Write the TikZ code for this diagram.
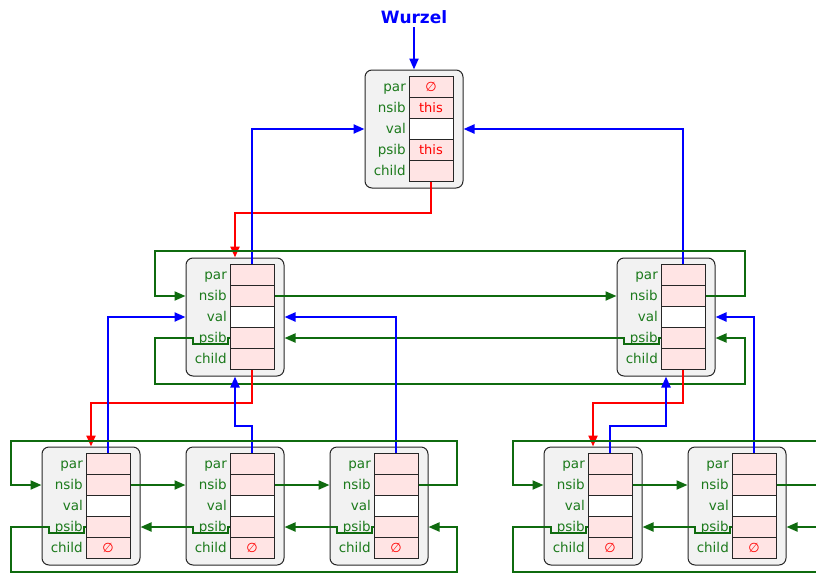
\documentclass[tikz,border=0pt]{standalone}
\usepackage{amsmath,amssymb}
\usepackage{fontspec}
\setmainfont{DejaVu Sans}
\usepackage{tikz}
\usetikzlibrary{arrows.meta,positioning}
\definecolor{cellpink}{HTML}{FFE4E4}
\definecolor{boxgray}{HTML}{F2F2F2}
\definecolor{sibgreen}{HTML}{0F6B0F}
\definecolor{lblgreen}{HTML}{1C7A1C}
\tikzset{
    recbox/.style={draw=black!85,fill=boxgray,rounded corners=7pt,minimum width=98pt,minimum height=118pt,inner sep=0pt,line width=1pt},
    cell/.style={draw=black!85,fill=cellpink,minimum width=44pt,minimum height=21pt,inner sep=0pt,line width=1pt,text=red,font=\fontsize{13}{15}\selectfont},
    fieldlbl/.style={anchor=base east,inner sep=0pt,text=lblgreen,font=\fontsize{13.5}{15}\selectfont},
    rootlbl/.style={text=blue,font=\bfseries\fontsize{17}{20}\selectfont},
    ptr/.style={line width=2.2pt,-{Triangle[length=11pt,width=9pt]}},
    parptr/.style={ptr,blue},
    childptr/.style={ptr,red},
    sibptr/.style={ptr,sibgreen,line width=2pt},
    sibline/.style={sibgreen,line width=2pt},
}
\newcommand{\nil}{\textit{∅}}
% #1 name, #2/#3 top left of the cells, #4 par, #5 nsib, #6 psib, #7 child
\newcommand{\listnode}[7]{%
    \node[recbox] (#1) at (#2+5,#3+52.5) {};
    \foreach \i/\fld/\txt/\fc in {0/par/{#4}/cellpink,1/nsib/{#5}/cellpink,2/val/{}/white,3/psib/{#6}/cellpink,4/child/{#7}/cellpink}{
        \node[cell,fill=\fc] (#1-\fld) at (#2+22,#3+10.5+21*\i) {\txt};
        \node[fieldlbl] (#1-\fld l) at (#2-3,#3+15+21*\i) {\fld};
    }
}

\begin{document}
\begin{tikzpicture}[x=1pt,y=-1pt]
    \useasboundingbox (0,0) rectangle (816,573);

    % nodes
    \listnode{top}{409}{76.5}{\nil}{this}{this}{}
    \listnode{ml}{230}{264.5}{}{}{}{}
    \listnode{mr}{661}{264.5}{}{}{}{}
    \listnode{bA}{86}{453.5}{}{}{}{\nil}
    \listnode{bB}{230}{453.5}{}{}{}{\nil}
    \listnode{bC}{374}{453.5}{}{}{}{\nil}
    \listnode{bD}{588}{453.5}{}{}{}{\nil}
    \listnode{bE}{732}{453.5}{}{}{}{\nil}

    % root
    \node[rootlbl] (root) at (414,17) {Wurzel};
    \draw[parptr] (root.south) -- (top.north);

    % level 1
    \draw[childptr] (top-child.south) -- ++(0,31) -| (ml.north);
    \draw[parptr] (ml-par.north) |- (top.west);
    \draw[parptr] (mr-par.north) |- (top.east);
    \draw[sibptr] (ml-nsib.east) -- (mr.west |- mr-nsib);
    \draw[sibptr] (mr-nsib.east) -| (745,251) -- (155,251) |- (ml.west |- ml-nsib);
    \draw[sibptr] (ml-psib.west) -- ++(-2,0) -- ++(0,6) -- ++(-35,0) -- ++(0,-6) -| (155,384) -| (745,338) -- (mr.east |- mr-psib);
    \draw[sibptr] (mr-psib.west) -- ++(-2,0) -- ++(0,6) -- ++(-35,0) -- ++(0,-6) -- (ml.east |- ml-psib);

    % level 2, left
    \draw[childptr] (ml-child.south) -- ++(0,33) -| (bA.north);
    \draw[parptr] (bA-par.north) |- (ml.west);
    \draw[parptr] (bB-par.north) -- ++(0,-27) -| (ml.south);
    \draw[parptr] (bC-par.north) |- (ml.east);
    \draw[sibptr] (bA-nsib.east) -- (bB.west |- bB-nsib);
    \draw[sibptr] (bB-nsib.east) -- (bC.west |- bC-nsib);
    \draw[sibptr] (bC-nsib.east) -| (457,441) -- (11,441) |- (bA.west |- bA-nsib);
    \draw[sibptr] (bA-psib.west) -- ++(-2,0) -- ++(0,6) -- ++(-35,0) -- ++(0,-6) -| (11,571.5) -| (457,527) -- (bC.east |- bC-psib);
    \draw[sibptr] (bB-psib.west) -- ++(-2,0) -- ++(0,6) -- ++(-35,0) -- ++(0,-6) -- (bA.east |- bA-psib);
    \draw[sibptr] (bC-psib.west) -- ++(-2,0) -- ++(0,6) -- ++(-35,0) -- ++(0,-6) -- (bB.east |- bB-psib);

    % level 2, right
    \coordinate (nsibin) at (816,441);
    \coordinate (nsibout) at (816,485);
    \coordinate (psibin) at (816,527);
    \coordinate (psibout) at (816,571.5);
    \draw[childptr] (mr-child.south) -- ++(0,33) -| (bD.north);
    \draw[parptr] (bD-par.north) -- ++(0,-27) -| (mr.south);
    \draw[parptr] (bE-par.north) |- (mr.east);
    \draw[sibptr] (bD-nsib.east) -- (bE.west |- bE-nsib);
    \draw[sibline] (bE-nsib.east) -- (nsibout);
    \draw[sibptr] (nsibin) -- (513,441) |- (bD.west |- bD-nsib);
    \draw[sibline] (bD-psib.west) -- ++(-2,0) -- ++(0,6) -- ++(-35,0) -- ++(0,-6) -| (513,571.5) -- (psibout);
    \draw[sibptr] (bE-psib.west) -- ++(-2,0) -- ++(0,6) -- ++(-35,0) -- ++(0,-6) -- (bD.east |- bD-psib);
    \draw[sibptr] (psibin) -- (bE.east |- bE-psib);
\end{tikzpicture}
\end{document}
